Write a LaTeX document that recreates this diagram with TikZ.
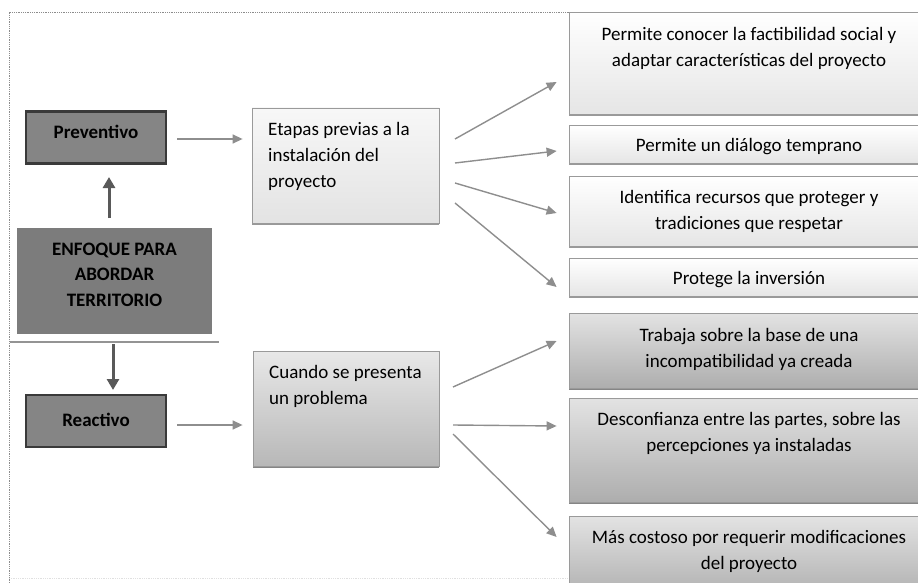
\documentclass[tikz,border=0pt]{standalone}
\usepackage{fontspec}
\setmainfont{Carlito}
\usetikzlibrary{arrows.meta,shadows}
\definecolor{arrowgray}{HTML}{8E8E8E}
\definecolor{darkbox}{HTML}{858585}
\definecolor{darkborder}{HTML}{3A3A3A}
\definecolor{midbox}{HTML}{7C7C7C}
\definecolor{boxborder}{HTML}{9A9A9A}
\tikzset{
  conn/.style={draw=arrowgray, line width=1.4pt, -{Triangle[length=10pt,width=9pt]}},
  thickconn/.style={draw=black!65, line width=3pt, -{Triangle[length=11pt,width=12pt]}},
  labelbox/.style={draw=darkborder, line width=2.6pt, fill=darkbox, minimum width=140pt, minimum height=52pt, inner sep=0pt},
  lightbox/.style={draw=boxborder, line width=0.8pt, inner sep=0pt, top color=white, bottom color=black!10, drop shadow={shadow xshift=0pt, shadow yshift=-1.6pt, fill=black!50, opacity=0.8}},
  darkgrad/.style={draw=boxborder, line width=0.8pt, inner sep=0pt, top color=black!11, bottom color=black!32, drop shadow={shadow xshift=0pt, shadow yshift=-1.6pt, fill=black!60, opacity=0.8}},
  btext/.style={font=\fontsize{19}{26}\selectfont, align=center, anchor=base, inner sep=0pt},
  ltext/.style={font=\fontsize{19}{26}\selectfont, align=left, anchor=base west, inner sep=0pt},
  boldtext/.style={font=\fontsize{19}{25.5}\selectfont\bfseries, align=center, anchor=base, inner sep=0pt},
}
\begin{document}
\begin{tikzpicture}[x=1pt,y=-1pt]
\useasboundingbox (0,0) rectangle (918,583);
\begin{scope}
\clip (0,0) rectangle (918,583);
% dotted frame
\draw[black!45, densely dotted, line width=0.8pt] (9,583) -- (9,12) -- (918,12);
\draw[black!12, densely dotted, line width=0.8pt] (9,578) -- (918,578);

% left column
\node[labelbox] (prev) at (96,137.5) {};
\node[boldtext] (prevt) at (96,139) {Preventivo};
\node[labelbox] (reac) at (96,421) {};
\node[boldtext] (react) at (96,426.5) {Reactivo};
\node[fill=midbox, minimum width=195pt, minimum height=106pt, inner sep=0pt] (enf) at (114.5,281) {};
\node[boldtext] (enft) at (114.5,306) {ENFOQUE PARA\\ABORDAR\\TERRITORIO};
\coordinate (hl1) at (10,342);
\coordinate (hl2) at (219,342);
\draw[black!42, line width=2.4pt] (hl1) -- (hl2);
\coordinate (upS) at (109,218);
\coordinate (upE) at (109,177);
\coordinate (dnS) at (113,344);
\coordinate (dnE) at (113,390);
\draw[thickconn] (upS) -- (upE);
\draw[thickconn] (dnS) -- (dnE);

% middle boxes
\node[lightbox, top color=black!3, bottom color=black!11, minimum width=187pt, minimum height=115pt] (etap) at (345.5,165.5) {};
\node[ltext] (etapt) at (268,187) {Etapas previas a la\\instalación del\\proyecto};
\node[darkgrad, top color=black!9, bottom color=black!28, minimum width=186pt, minimum height=115pt] (cuan) at (346,408.5) {};
\node[ltext] (cuant) at (269,404) {Cuando se presenta\\un problema};

\draw[conn] ([xshift=10pt]prev.east |- 0,139) -- ([xshift=-9pt]etap.west |- 0,139);
\draw[conn] ([xshift=10pt]reac.east |- 0,425) -- ([xshift=-10pt]cuan.west |- 0,425);

% right boxes
\node[lightbox, minimum width=361pt, minimum height=102pt] (r1) at (749.5,63) {};
\node[btext] (r1t) at (749,67) {Permite conocer la factibilidad social y\\adaptar características del proyecto};
\node[lightbox, minimum width=361pt, minimum height=38pt] (r2) at (749.5,144) {};
\node[btext] (r2t) at (749,152) {Permite un diálogo temprano};
\node[lightbox, minimum width=361pt, minimum height=70pt] (r3) at (749.5,211) {};
\node[btext] (r3t) at (749,229) {Identifica recursos que proteger y\\tradiciones que respetar};
\node[lightbox, minimum width=361pt, minimum height=38pt] (r4) at (749.5,277) {};
\node[btext] (r4t) at (749,284) {Protege la inversión};
\node[darkgrad, minimum width=361pt, minimum height=75pt] (r5) at (749.5,350.5) {};
\node[btext] (r5t) at (749,367) {Trabaja sobre la base de una\\incompatibilidad ya creada};
\node[darkgrad, minimum width=361pt, minimum height=104pt] (r6) at (749.5,450) {};
\node[btext] (r6t) at (749,451) {Desconfianza entre las partes, sobre las\\percepciones ya instaladas};
\node[darkgrad, minimum width=361pt, minimum height=84pt] (r7) at (749.5,558) {};
\node[btext] (r7t) at (749,569) {Más costoso por requerir modificaciones\\del proyecto};

% fan-out arrows
\coordinate (e1) at (455,139);
\coordinate (e2) at (455,163);
\coordinate (e3) at (455,183);
\coordinate (e4) at (455,203);
\coordinate (c1) at (453,387);
\coordinate (c2) at (453,425);
\coordinate (c3) at (453,434);
\draw[conn] (e1) -- ([xshift=-12pt]r1.west |- 0,82);
\draw[conn] (e2) -- ([xshift=-12pt]r2.west |- 0,151);
\draw[conn] (e3) -- ([xshift=-12pt]r3.west |- 0,213);
\draw[conn] (e4) -- ([xshift=-12pt]r4.west |- 0,287);
\draw[conn] (c1) -- ([xshift=-12pt]r5.west |- 0,341);
\draw[conn] (c2) -- ([xshift=-12pt]r6.west |- 0,426);
\draw[conn] (c3) -- ([xshift=-12pt]r7.west |- 0,537);
\end{scope}
\end{tikzpicture}
\end{document}
